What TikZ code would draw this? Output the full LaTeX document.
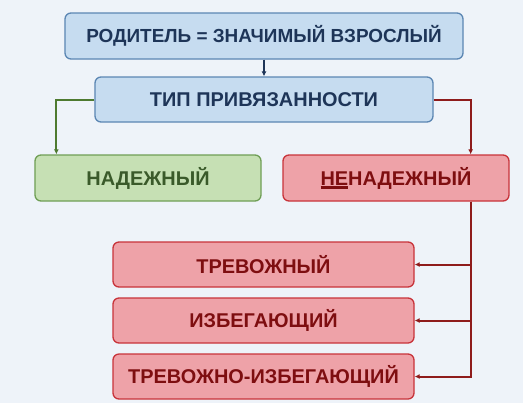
\documentclass[tikz,border=0pt]{standalone}
\usepackage{fontspec}
\setmainfont{Liberation Sans}
\usetikzlibrary{arrows.meta,calc}
\definecolor{bg}{HTML}{EEF3F9}
\definecolor{bfill}{HTML}{C6DCF0}
\definecolor{bdraw}{HTML}{5B86B3}
\definecolor{btext}{HTML}{1E3558}
\definecolor{gfill}{HTML}{C6E0B4}
\definecolor{gdraw}{HTML}{6F9E55}
\definecolor{gtext}{HTML}{3A5A2A}
\definecolor{gline}{HTML}{4E7A30}
\definecolor{rfill}{HTML}{EEA2A8}
\definecolor{rdraw}{HTML}{C8333A}
\definecolor{rtext}{HTML}{7E0E10}
\definecolor{rline}{HTML}{8E1B1B}
\newcommand\myul[1]{\setbox0\hbox{#1}\rlap{\raisebox{-3.5bp}{\rule{\wd0}{2.2bp}}}\box0}
\tikzset{
  box/.style={rectangle, rounded corners=6bp, line width=1.3bp, font=\bfseries\fontsize{20}{24}\selectfont, inner sep=0pt},
  bluebox/.style={box, fill=bfill, draw=bdraw, text=btext},
  greenbox/.style={box, fill=gfill, draw=gdraw, text=gtext},
  redbox/.style={box, fill=rfill, draw=rdraw, text=rtext},
  tip/.style={-{Latex[length=5bp,width=5bp]}},
}
\begin{document}
\begin{tikzpicture}[x=1bp,y=-1bp]
\fill[bg] (0,0) rectangle (523,403);
\useasboundingbox (0,0) rectangle (523,403);
\node[bluebox, minimum width=398bp, minimum height=46bp, font=\bfseries\fontsize{19}{23}\selectfont] (b1) at (264,36) {РОДИТЕЛЬ = ЗНАЧИМЫЙ ВЗРОСЛЫЙ};
\node[bluebox, minimum width=338bp, minimum height=45bp] (b2) at (264,99.5) {ТИП ПРИВЯЗАННОСТИ};
\node[greenbox, minimum width=226bp, minimum height=46bp] (g) at (148,178) {НАДЕЖНЫЙ};
\node[redbox, minimum width=226bp, minimum height=46bp] (r) at (396,178) {\myul{НЕ}НАДЕЖНЫЙ};
\node[redbox, minimum width=301bp, minimum height=45bp] (l1) at (263.5,264.5) {ТРЕВОЖНЫЙ};
\node[redbox, minimum width=301bp, minimum height=45bp] (l2) at (263.5,320.5) {ИЗБЕГАЮЩИЙ};
\node[redbox, minimum width=301bp, minimum height=45bp] (l3) at (263.5,376.5) {ТРЕВОЖНО-ИЗБЕГАЮЩИЙ};
\coordinate (gin) at ($(g.north west)+(22,0)$);
\coordinate (rin) at ($(r.north east)+(-39,0)$);
\coordinate (rout) at ($(r.south east)+(-39,0)$);
\draw[tip, line width=1.6bp, btext] (b1.south) -- (b2.north);
\draw[tip, line width=2bp, gline] (b2.west) -| (gin);
\draw[tip, line width=2bp, rline] (b2.east) -| (rin);
\draw[tip, line width=2bp, rline] (rout) |- (l1.east);
\draw[tip, line width=2bp, rline] (rout) |- (l2.east);
\draw[tip, line width=2bp, rline] (rout) |- (l3.east);
\end{tikzpicture}
\end{document}
